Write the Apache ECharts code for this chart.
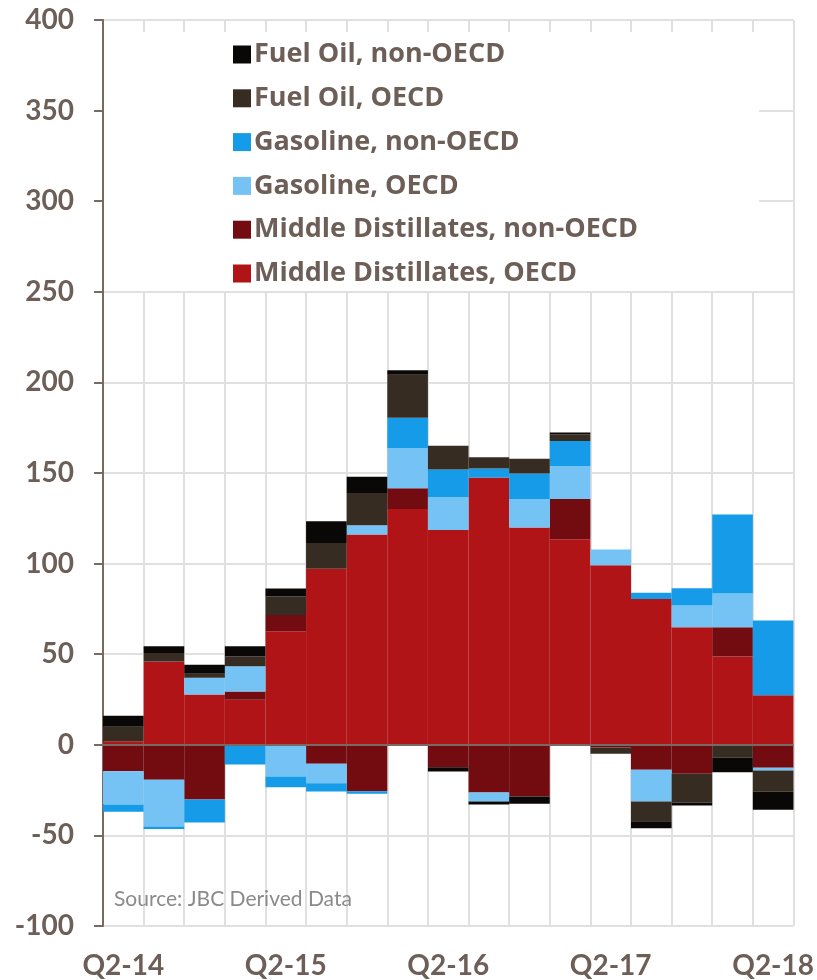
<!DOCTYPE html>
<html>
<head>
<meta charset="utf-8">
<script src="https://cdn.jsdelivr.net/npm/echarts@6/dist/echarts.min.js"></script>
<style>html,body{margin:0;padding:0;background:#fff}#c{width:817px;height:980px}</style>
</head>
<body>
<div id="c"></div>
<script>
const categories = ['Q2-14','Q3-14','Q4-14','Q1-15','Q2-15','Q3-15','Q4-15','Q1-16','Q2-16','Q3-16','Q4-16','Q1-17','Q2-17','Q3-17','Q4-17','Q1-18','Q2-18'];
const mdOECD     = [2, 46, 27.8, 24.8, 62.7, 97.1, 116.1, 130.2, 118.6, 147.5, 119.9, 113.5, 99.1, 80.4, 64.9, 48.7, 27.4];
const mdNonOECD  = [-14.6, -19.3, -30.2, 4.6, 9, -10.5, -25.6, 11.4, -12.4, -26.3, -28.5, 22.2, -1.5, -13.8, -16, 16.2, -12.7];
const gasOECD    = [-18.3, -25.8, 9.2, 14, -17.5, -10.7, 5.1, 22.1, 18, -5, 15.6, 18.1, 8.7, -17.5, 12, 18.6, -1.5];
const gasNonOECD = [-4, -1.3, -12.7, -10.9, -5.9, -4.6, -1.4, 16.8, 15.3, 5, 14.2, 13.8, 0, 3.5, 9.5, 43.6, 41.2];
const foOECD     = [8, 4.6, 2.2, 5.3, 10.1, 14.2, 17.7, 23.7, 13.1, 6.2, 8.1, 3.6, -3.5, -10.9, -15.8, -7.2, -11.7];
const foNonOECD  = [6, 3.8, 5, 5.7, 4.5, 12.1, 9, 2.5, -2.3, -1.6, -4.1, 1.1, 0, -3.8, -1.7, -7.9, -10];

const TXT = '#6d5f57';
const AX = '#766a62';
const FONT = 'Lato';

const seriesDefs = [
  {name:'Middle Distillates, OECD', data: mdOECD, color:'#b01416'},
  {name:'Middle Distillates, non-OECD', data: mdNonOECD, color:'#730c10'},
  {name:'Gasoline, OECD', data: gasOECD, color:'#75c2f5'},
  {name:'Gasoline, non-OECD', data: gasNonOECD, color:'#159be8'},
  {name:'Fuel Oil, OECD', data: foOECD, color:'#372c22'},
  {name:'Fuel Oil, non-OECD', data: foNonOECD, color:'#0a0806'}
];

const series = seriesDefs.map((s, i) => {
  const o = {
    name: s.name, type: 'bar', stack: 'total', data: s.data,
    barCategoryGap: '0%',
    itemStyle: {color: s.color},
    emphasis: {disabled: true}
  };
  if (i === seriesDefs.length - 1) {
    o.markLine = {
      silent: true, symbol: 'none', z: 10,
      label: {show: false},
      lineStyle: {color: AX, width: 2, type: 'solid'},
      data: [{yAxis: 0}]
    };
  }
  return o;
});

const chart = echarts.init(document.getElementById('c'), null, {renderer: 'canvas'});
chart.setOption({
  animation: false,
  backgroundColor: '#fff',
  grid: {left: 103, right: 22, top: 20, bottom: 54, containLabel: false},
  legend: {
    orient: 'vertical', left: 228, top: 36,
    itemWidth: 18, itemHeight: 18, itemGap: 16.8,
    icon: 'rect',
    data: ['Fuel Oil, non-OECD','Fuel Oil, OECD','Gasoline, non-OECD','Gasoline, OECD','Middle Distillates, non-OECD','Middle Distillates, OECD'],
    textStyle: {color: TXT, fontFamily: 'Open Sans', fontWeight: 'bold', fontSize: 27, lineHeight: 26, padding: [0,0,0,-2]},
    selectedMode: false
  },
  graphic: [
    {type: 'rect', z: 1, silent: true, shape: {x: 104, y: 32, width: 655, height: 259}, style: {fill: '#fff'}},
    {type: 'text', z: 5, silent: true, left: 114, top: 889, style: {text: 'Source: JBC Derived Data', fill: '#8a8a8a', font: '21px Lato'}}
  ],
  xAxis: {
    type: 'category', data: categories, boundaryGap: true,
    axisLine: {show: false}, axisTick: {show: false},
    axisLabel: {interval: 3, color: TXT, fontFamily: FONT, fontWeight: 'bold', fontSize: 28, margin: 26},
    splitLine: {show: true, interval: 0, lineStyle: {color: '#e0e0e0', width: 2}}
  },
  yAxis: {
    type: 'value', min: -100, max: 400, interval: 50,
    axisLine: {show: true, lineStyle: {color: AX, width: 2}},
    axisTick: {show: true, length: 9, lineStyle: {color: AX, width: 2}},
    axisLabel: {color: TXT, fontFamily: FONT, fontWeight: 'bold', fontSize: 28, margin: 29},
    splitLine: {show: true, lineStyle: {color: '#e0e0e0', width: 2}}
  },
  series: series
});
</script>
</body>
</html>
